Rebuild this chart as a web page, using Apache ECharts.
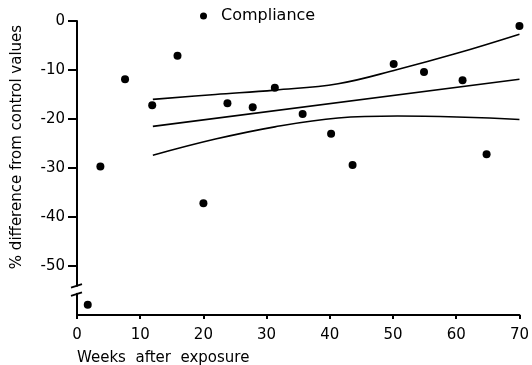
<!DOCTYPE html>
<html>
<head>
<meta charset="utf-8">
<script src="https://cdn.jsdelivr.net/npm/echarts@6/dist/echarts.min.js"></script>
<style>
  html, body { margin: 0; padding: 0; background: #fff; }
  #chart { width: 532px; height: 365px; }
</style>
</head>
<body>
<div id="chart"></div>
<script>
  // compliance points
  const complianceWeeks = [1.7, 3.7, 7.6, 11.9, 15.9, 20.0, 23.8, 27.8, 31.3, 35.7, 40.2, 43.6, 50.1, 54.9, 61.0, 64.8, 70.0];
  const complianceValues = [-57.9, -29.7, -11.9, -17.2, -7.1, -37.2, -16.8, -17.6, -13.6, -19.0, -23.0, -29.4, -8.8, -10.4, -12.1, -27.2, -1.0];

  // regression line and its confidence curves
  const fitWeeks = [12, 70];
  const fitValues = [-21.5, -11.9];
  const bandWeeks = [12, 21.9, 31.3, 41.3, 50.7, 60.1, 70];
  const upperValues = [-16.0, -15.0, -14.1, -12.8, -9.9, -6.6, -2.7];
  const lowerValues = [-27.4, -24.1, -21.6, -19.8, -19.4, -19.6, -20.1];

  const yTicks = [0, -10, -20, -30, -40, -50];

  const FONT = '"DejaVu Sans", sans-serif';
  const zip = (xs, ys) => xs.map((x, i) => [x, ys[i]]);

  const chart = echarts.init(document.getElementById('chart'));

  const lineSeries = (data, smooth) => ({
    type: 'line',
    data: data,
    smooth: smooth,
    symbol: 'none',
    silent: true,
    lineStyle: { color: '#000', width: 1.6 }
  });

  chart.setOption({
    animation: false,
    grid: { left: 77, right: 8, top: 21, bottom: 50 },
    legend: {
      data: ['Compliance'],
      left: 195,
      top: 3,
      itemWidth: 25,
      itemHeight: 7,
      itemGap: 5,
      textStyle: { fontFamily: FONT, fontSize: 16, color: '#000' }
    },
    xAxis: {
      type: 'value',
      min: 0,
      max: 70,
      interval: 10,
      splitLine: { show: false },
      axisLine: { show: true, onZero: false, lineStyle: { color: '#000', width: 2 } },
      axisTick: { show: true, length: 4, lineStyle: { color: '#000', width: 2 } },
      axisLabel: { margin: 13, fontFamily: FONT, fontSize: 15, color: '#000' }
    },
    yAxis: {
      type: 'value',
      min: -60,
      max: 0,
      interval: 10,
      splitLine: { show: false },
      axisLine: { show: true, onZero: false, lineStyle: { color: '#000', width: 2 } },
      axisTick: { show: false },
      axisLabel: {
        margin: 12, fontFamily: FONT, fontSize: 15, color: '#000',
        formatter: v => (yTicks.indexOf(v) >= 0 ? String(v) : '')
      }
    },
    series: [
      lineSeries(zip(bandWeeks, upperValues), 0.4),
      lineSeries(zip(fitWeeks, fitValues), false),
      lineSeries(zip(bandWeeks, lowerValues), 0.4),
      {
        name: 'Compliance',
        type: 'scatter',
        symbol: 'circle',
        symbolSize: 8,
        clip: false,
        itemStyle: { color: '#000', opacity: 1 },
        data: zip(complianceWeeks, complianceValues)
      }
    ]
  });

  // y ticks, axis break on the y axis, plus the axis titles
  const p = (x, y) => chart.convertToPixel({ gridIndex: 0 }, [x, y]);
  const b1 = p(0, -54.0);
  const b2 = p(0, -55.7);
  const yTickMarks = yTicks.map(v => {
    const t = p(0, v);
    return {
      type: 'line',
      shape: { x1: t[0] - 9, y1: t[1], x2: t[0], y2: t[1] },
      style: { stroke: '#000', lineWidth: 2 },
      z: 101
    };
  });
  chart.setOption({
    graphic: yTickMarks.concat([
      {
        type: 'rect',
        shape: { x: b1[0] - 3, y: b1[1] + 1, width: 6, height: b2[1] - b1[1] - 2 },
        style: { fill: '#fff' },
        z: 100
      },
      {
        type: 'line',
        shape: { x1: b1[0] - 6, y1: b1[1] + 2, x2: b1[0] + 5, y2: b1[1] - 1.5 },
        style: { stroke: '#000', lineWidth: 1.8 },
        z: 101
      },
      {
        type: 'line',
        shape: { x1: b2[0] - 6, y1: b2[1] + 2, x2: b2[0] + 5, y2: b2[1] - 1.5 },
        style: { stroke: '#000', lineWidth: 1.8 },
        z: 101
      },
      {
        type: 'text',
        x: 77,
        y: 358,
        style: { text: 'Weeks  after  exposure', font: '15px ' + FONT, fill: '#000', align: 'left', verticalAlign: 'middle' }
      },
      {
        type: 'text',
        x: 17,
        y: 147,
        rotation: Math.PI / 2,
        style: { text: '% difference from control values', font: '15px ' + FONT, fill: '#000', align: 'center', verticalAlign: 'middle' }
      }
    ])
  });
</script>
</body>
</html>
